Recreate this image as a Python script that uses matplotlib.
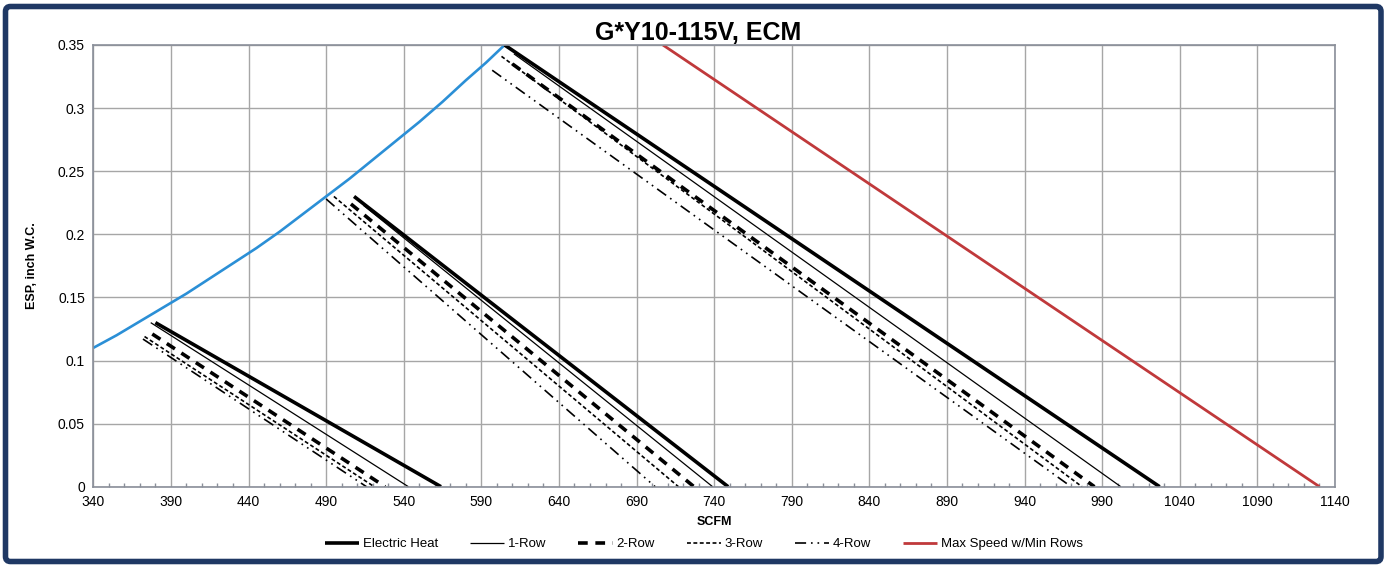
import matplotlib
matplotlib.use("Agg")
import matplotlib.pyplot as plt
from matplotlib.patches import FancyBboxPatch
from matplotlib.transforms import IdentityTransform
from matplotlib.ticker import MultipleLocator

plt.rcParams['font.family'] = ['Liberation Sans', 'DejaVu Sans']
plt.rcParams['lines.scale_dashes'] = False

# each series: one segment per fan speed (low, mid, high)
elec_heat_cfm = [[380, 564], [508, 749], [605, 1027]]
elec_heat_esp = [[0.130, 0], [0.230, 0], [0.350, 0]]

row1_cfm = [[377, 543], [514, 739], [611, 1002]]
row1_esp = [[0.130, 0], [0.223, 0], [0.343, 0]]

row2_cfm = [[378, 528], [506, 727], [610, 985]]
row2_esp = [[0.121, 0], [0.224, 0], [0.335, 0]]

row3_cfm = [[373, 521], [495, 717], [603, 977]]
row3_esp = [[0.119, 0], [0.230, 0], [0.341, 0]]

row4_cfm = [[372, 516], [490, 702], [597, 970]]
row4_esp = [[0.117, 0], [0.228, 0], [0.330, 0]]

max_speed_cfm = [707, 1130]
max_speed_esp = [0.350, 0]

# duct curve (blue, not in legend)
duct_cfm = [340, 355, 370, 385, 400, 415, 430, 445, 460, 475,
            490, 505, 520, 535, 550, 565, 580, 593, 605]
duct_esp = [0.110, 0.120, 0.131, 0.142, 0.153, 0.165, 0.177, 0.189, 0.202, 0.216,
            0.230, 0.244, 0.259, 0.274, 0.289, 0.305, 0.322, 0.336, 0.350]

x_ticks = list(range(340, 1141, 50))
y_ticks = [0, 0.05, 0.1, 0.15, 0.2, 0.25, 0.3, 0.35]
y_labels = ["0", "0.05", "0.1", "0.15", "0.2", "0.25", "0.3", "0.35"]

fig = plt.figure(figsize=(13.85, 5.65), dpi=100)
ax = fig.add_axes([93.3 / 1385, 1 - 486.7 / 565, (1335 - 93.3) / 1385, (486.7 - 45) / 565])

ax.plot(duct_cfm, duct_esp, color='#2b8fd6', lw=1.9, solid_capstyle='butt')

styles = [
    ("Electric Heat", elec_heat_cfm, elec_heat_esp, dict(lw=2.6, ls='-')),
    ("1-Row", row1_cfm, row1_esp, dict(lw=0.9, ls='-')),
    ("2-Row", row2_cfm, row2_esp, dict(lw=2.6, ls=(0, (7, 5.5)))),
    ("3-Row", row3_cfm, row3_esp, dict(lw=1.2, ls=(0, (2.8, 1.8)))),
    ("4-Row", row4_cfm, row4_esp, dict(lw=1.2, ls=(0, (8, 3.5, 1.2, 3.5, 1.2, 3.5)))),
]
for name, xs, ys, st in styles:
    for i, (sx, sy) in enumerate(zip(xs, ys)):
        ax.plot(sx, sy, color='black', label=name if i == 0 else None,
                solid_capstyle='butt', dash_capstyle='butt', **st)

ax.plot(max_speed_cfm, max_speed_esp, color='#c0393b', lw=2.0,
        label="Max Speed w/Min Rows", solid_capstyle='butt')

ax.set_xlim(340, 1140)
ax.set_ylim(0, 0.35)
ax.set_xticks(x_ticks)
ax.set_yticks(y_ticks)
ax.set_yticklabels(y_labels)
ax.xaxis.set_minor_locator(MultipleLocator(10))
ax.grid(True, which='major', color='#a6a6a6', lw=1.0)
ax.set_axisbelow(True)
ax.tick_params(which='major', length=0, labelsize=10, pad=6, colors='black')
ax.tick_params(axis='x', which='minor', direction='in', length=3, color='#8a8f99', width=1)
for sp in ax.spines.values():
    sp.set_color('#8a8f99')
    sp.set_linewidth(1.2)

ax.set_xlabel("SCFM", fontsize=9, fontweight='bold', labelpad=5)
ax.set_ylabel("ESP, inch W.C.", fontsize=9, fontweight='bold', labelpad=14)

fig.text(0.504, 1 - 33 / 565, "G*Y10-115V, ECM", ha='center', va='center',
         fontsize=18, fontweight='bold')

fig.legend(loc='center', bbox_to_anchor=(704 / 1385, 1 - 544 / 565), ncol=6,
           frameon=False, fontsize=9.5, handlelength=2.6, handletextpad=0.3,
           columnspacing=2.4)

border = FancyBboxPatch((5.5, 3.5), 1375.5, 555, boxstyle="round,pad=0,rounding_size=5",
                        transform=IdentityTransform(), fill=False, ec='#1f3864', lw=4.0)
fig.add_artist(border)

fig.savefig("out.png", dpi=100)
